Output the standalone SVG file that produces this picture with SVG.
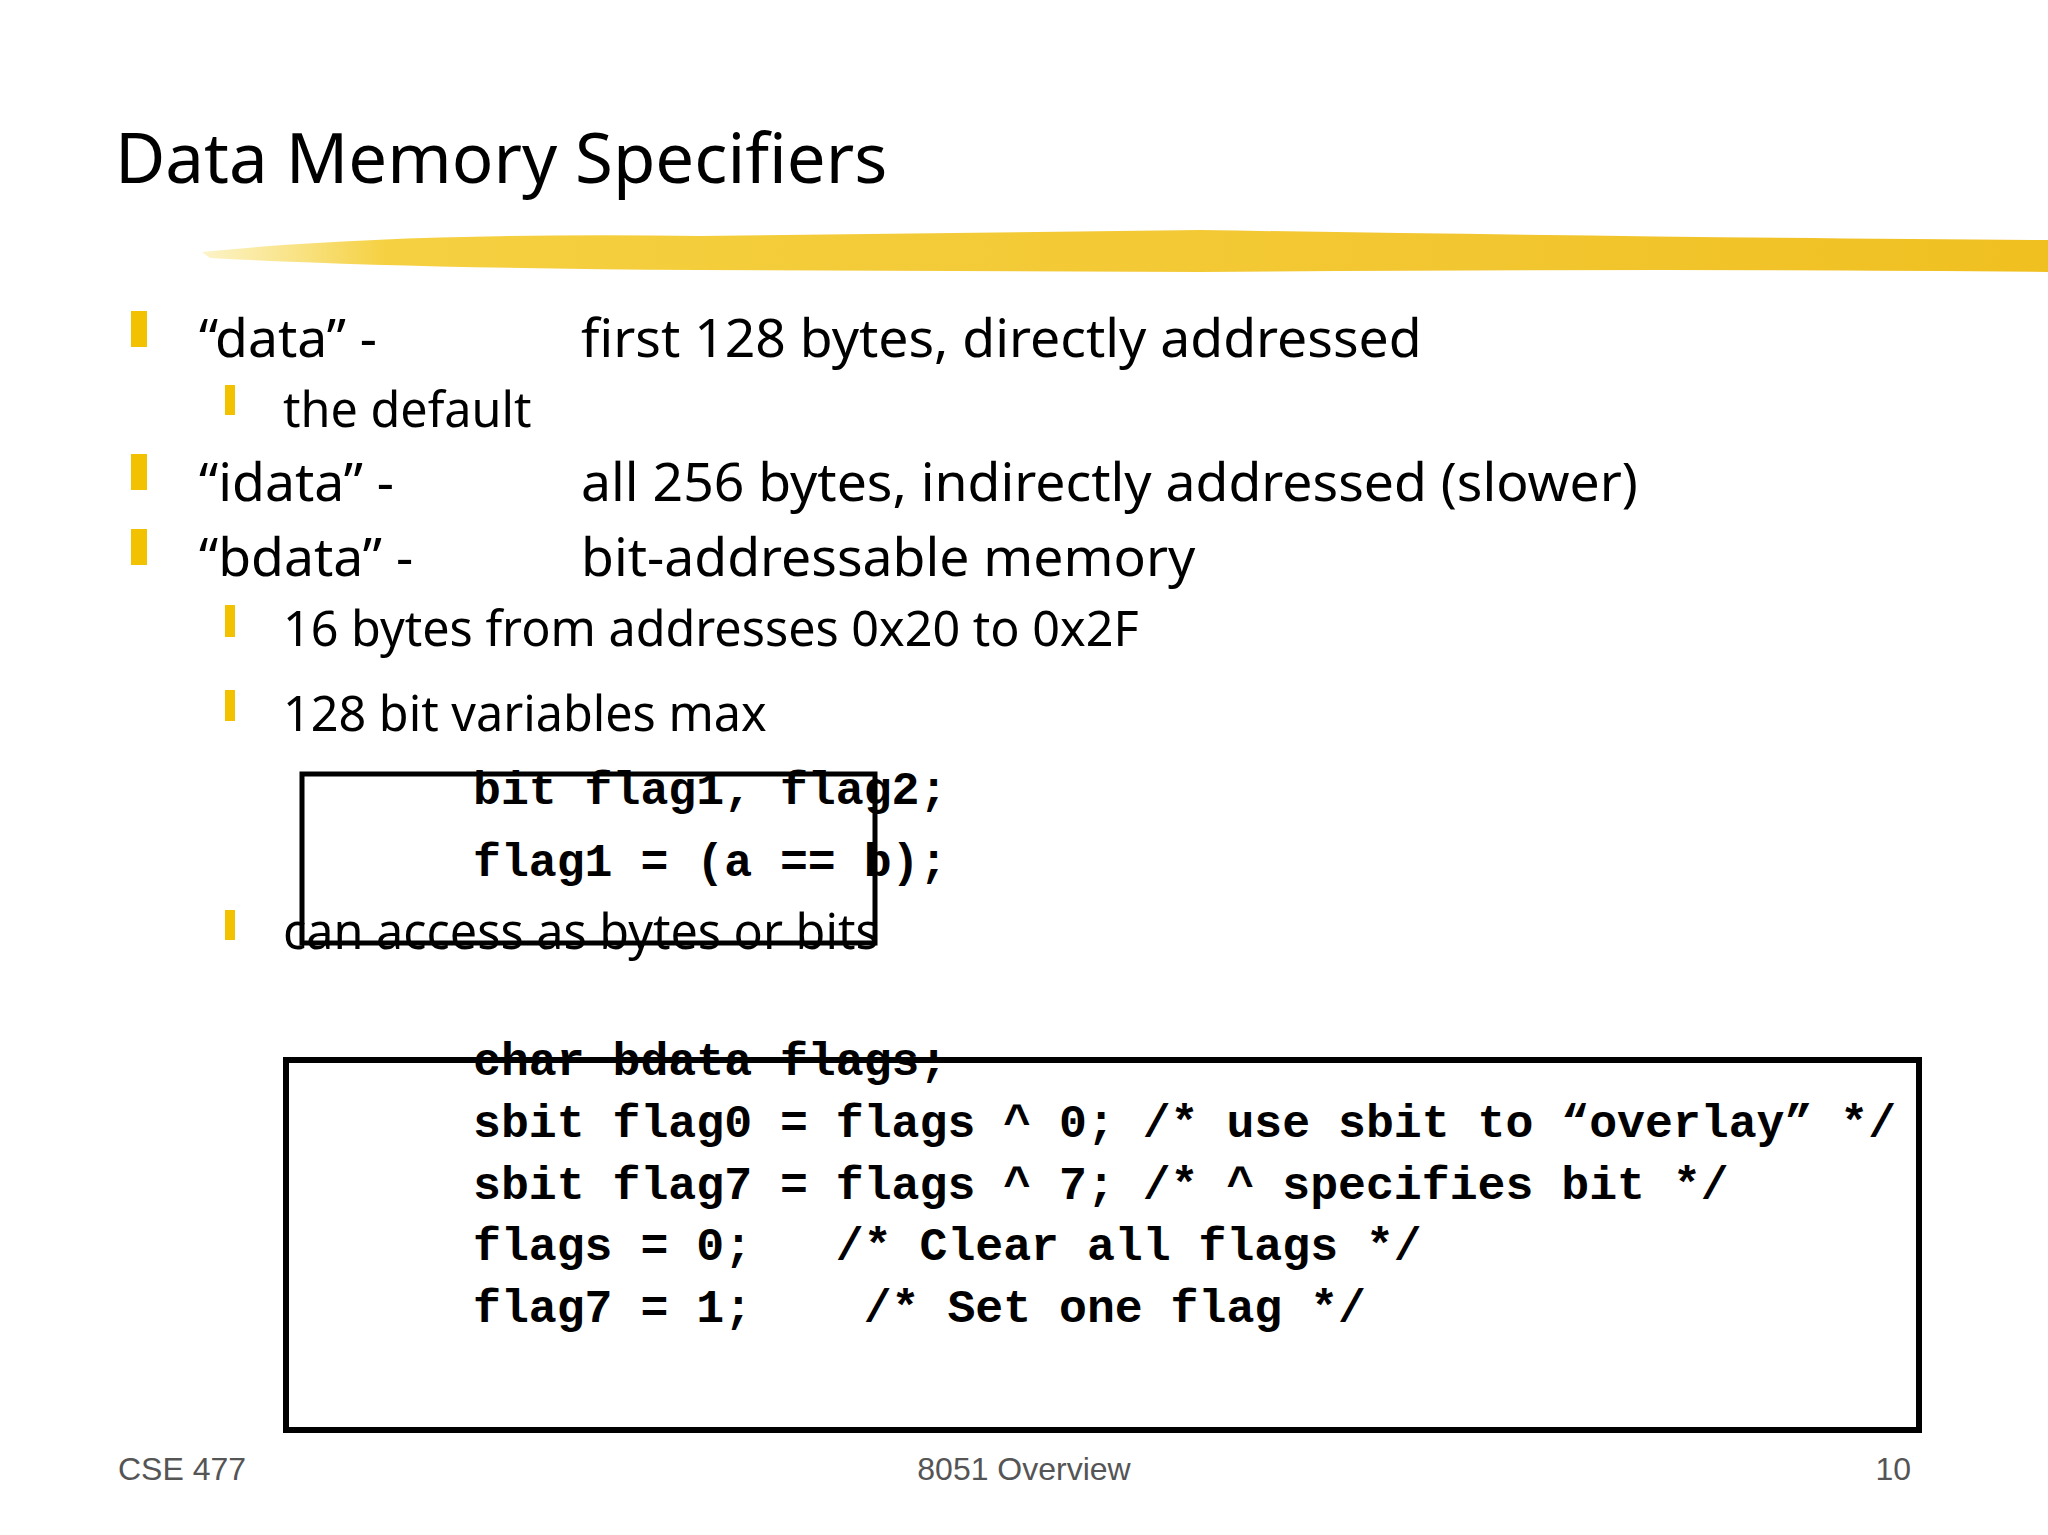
<svg xmlns="http://www.w3.org/2000/svg" width="2048" height="1535" viewBox="0 0 2048 1535">
<defs>
<linearGradient id="br" x1="0" x2="1" y1="0" y2="0">
<stop offset="0" stop-color="#f6d84a" stop-opacity="0.3"/>
<stop offset="0.1" stop-color="#f5d040"/>
<stop offset="0.7" stop-color="#f2c630"/>
<stop offset="1" stop-color="#f0c020"/>
</linearGradient>
</defs>
<style>
.t{font-family:"Noto Sans","Open Sans",sans-serif;fill:#000}
.l1{font-size:53.5px}
.l2{font-size:48.5px}
.c{font-family:"Liberation Mono","DejaVu Sans Mono",monospace;font-weight:bold;font-size:46.5px;white-space:pre;fill:#000}
.f{font-family:"Liberation Sans",Arial,sans-serif;font-size:32px;fill:#555}
.b{fill:#f2c200}
.box{fill:none;stroke:#000}
</style>
<rect width="2048" height="1535" fill="#fff"/>
<g id="title">
<text class="t" x="115" y="183" font-size="69">Data Memory Specifiers</text>
<path d="M202 252 Q400 232 700 236 L1200 230 Q1700 238 2048 240 L2048 272 Q1700 268 1200 272 L700 270 Q400 268 210 258 Z" fill="url(#br)"/>
</g>
<g id="bullets">
<rect class="b" x="131" y="311" width="16" height="36"/>
<text class="t l1" x="199" y="357">“data” -</text>
<text class="t l1" x="581" y="357">first 128 bytes, directly addressed</text>
<rect class="b" x="225" y="385" width="10" height="30"/>
<text class="t l2" x="283" y="427">the default</text>
<rect class="b" x="131" y="454" width="16" height="36"/>
<text class="t l1" x="199" y="501">“idata” -</text>
<text class="t l1" x="581" y="501">all 256 bytes, indirectly addressed (slower)</text>
<rect class="b" x="131" y="529" width="16" height="36"/>
<text class="t l1" x="199" y="576">“bdata” -</text>
<text class="t l1" x="581" y="576">bit-addressable memory</text>
<rect class="b" x="225" y="605" width="10" height="32"/>
<text class="t l2" x="283" y="646">16 bytes from addresses 0x20 to 0x2F</text>
<rect class="b" x="225" y="690" width="10" height="31"/>
<text class="t l2" x="283" y="731">128 bit variables max</text>
<rect class="b" x="225" y="910" width="10" height="30"/>
<text class="t l2" x="283" y="949">can access as bytes or bits</text>
</g>
<g id="code1">
<text class="c" x="473" y="804">bit flag1, flag2;</text>
<text class="c" x="473" y="876">flag1 = (a == b);</text>
<rect class="box" x="302" y="774" width="573" height="169" stroke-width="5"/>
</g>
<g id="code2">
<text class="c" x="473" y="1075">char bdata flags;</text>
<text class="c" x="473" y="1137">sbit flag0 = flags ^ 0; /* use sbit to “overlay” */</text>
<text class="c" x="473" y="1199">sbit flag7 = flags ^ 7; /* ^ specifies bit */</text>
<text class="c" x="473" y="1260">flags = 0;   /* Clear all flags */</text>
<text class="c" x="473" y="1322">flag7 = 1;    /* Set one flag */</text>
<rect class="box" x="286" y="1060" width="1633" height="370" stroke-width="6"/>
</g>
<g id="footer">
<text class="f" x="118" y="1480">CSE 477</text>
<text class="f" x="1024" y="1480" text-anchor="middle">8051 Overview</text>
<text class="f" x="1911" y="1480" text-anchor="end">10</text>
</g>
</svg>
